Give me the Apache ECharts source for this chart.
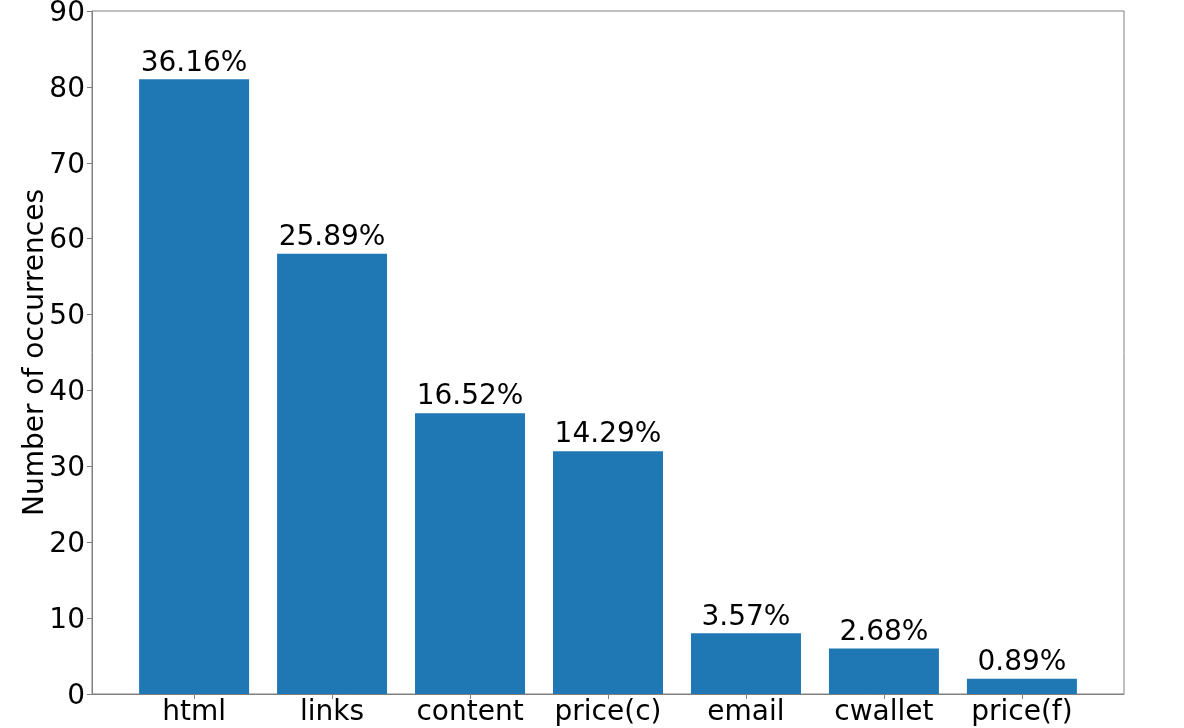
<!DOCTYPE html>
<html>
<head>
<meta charset="utf-8">
<script src="https://cdn.jsdelivr.net/npm/echarts@6/dist/echarts.min.js"></script>
<style>
  html, body { margin: 0; padding: 0; background: #fff; }
  #chart { width: 1184px; height: 728px; }
</style>
</head>
<body>
<div id="chart"></div>
<script>
// categories and counts
var categories = ['html', 'links', 'content', 'price(c)', 'email', 'cwallet', 'price(f)'];
var counts = [81, 58, 37, 32, 8, 6, 2];
var yTicks = [0, 10, 20, 30, 40, 50, 60, 70, 80, 90];

var total = counts.reduce(function (a, b) { return a + b; }, 0);
var positions = categories.map(function (c, i) { return i; });

var font = 'DejaVu Sans';
var frameColor = '#808080';

var chart = echarts.init(document.getElementById('chart'));
chart.setOption({
    animation: false,
    grid: {
        left: 92, right: 60, top: 11, bottom: 34,
        outerBoundsMode: 'none',
        show: true, borderColor: frameColor, borderWidth: 1
    },
    xAxis: {
        type: 'value',
        min: -0.74,
        max: 6.74,
        splitLine: { show: false },
        axisLine: { show: true, onZero: false, lineStyle: { color: frameColor } },
        axisTick: { show: true, length: 5, customValues: positions, lineStyle: { color: frameColor } },
        axisLabel: {
            customValues: positions,
            formatter: function (v) { return categories[Math.round(v)]; },
            color: '#000', fontFamily: font, fontSize: 28, margin: 5
        }
    },
    yAxis: {
        type: 'value',
        min: 0,
        max: 90,
        interval: 10,
        name: 'Number of occurrences',
        nameLocation: 'middle',
        nameGap: 42,
        nameMoveOverlap: false,
        nameTextStyle: { color: '#000', fontFamily: font, fontSize: 28 },
        splitLine: { show: false },
        axisLine: { show: true, onZero: false, lineStyle: { color: frameColor } },
        axisTick: { show: true, length: 5, lineStyle: { color: frameColor } },
        axisLabel: {
            customValues: yTicks,
            formatter: function (v) { return '{t|' + v + '}'; },
            rich: { t: { color: '#000', fontFamily: font, fontSize: 28, padding: [5, 0, 0, 0] } },
            margin: 7
        }
    },
    series: [{
        type: 'bar',
        barWidth: 110,
        itemStyle: { color: '#1f77b4' },
        data: counts.map(function (v, i) { return [i, v]; }),
        label: {
            show: true,
            position: 'top',
            distance: 2,
            color: '#000',
            fontFamily: font,
            fontSize: 28,
            formatter: function (p) { return (p.value[1] / total * 100).toFixed(2) + '%'; }
        }
    }]
});
</script>
</body>
</html>
